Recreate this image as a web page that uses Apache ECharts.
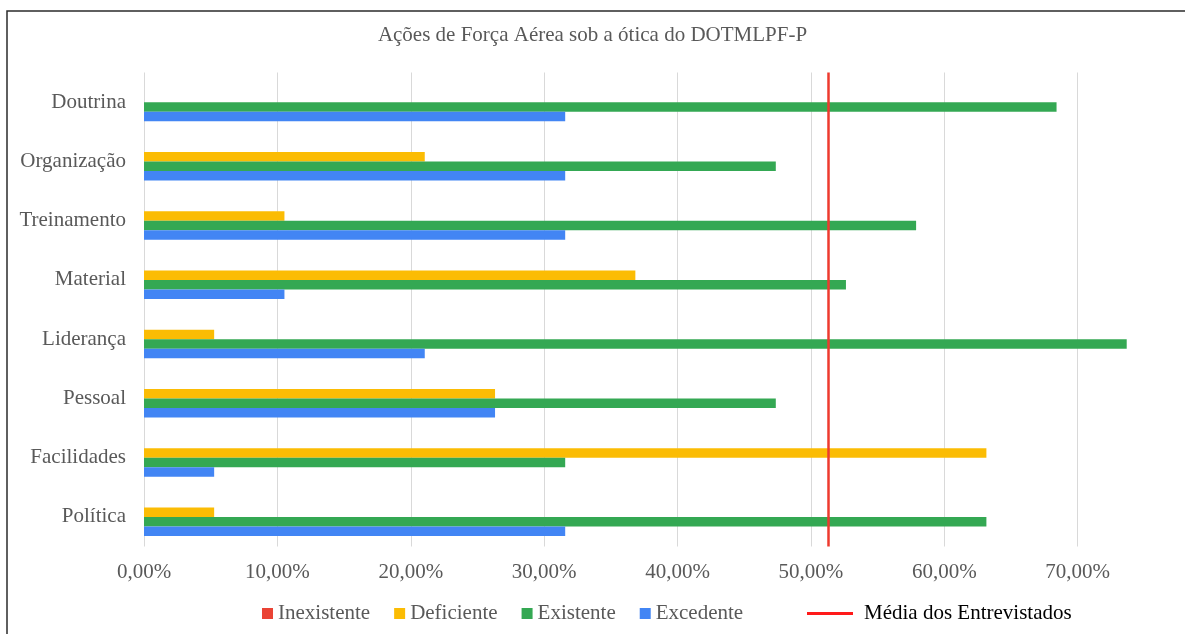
<!DOCTYPE html>
<html>
<head>
<meta charset="utf-8">
<script type="text/javascript" src="https://cdn.jsdelivr.net/npm/echarts@6/dist/echarts.min.js"></script>
<style>
  html, body { margin: 0; padding: 0; background: #fff; }
</style>
</head>
<body>
<div id="main" style="width:1185px;height:634px;"></div>
<script type="text/javascript">
// categorias (de cima para baixo)
var categorias = ['Doutrina', 'Organização', 'Treinamento', 'Material', 'Liderança', 'Pessoal', 'Facilidades', 'Política'];
// valores em %
var inexistente = [0, 0, 0, 0, 0, 0, 0, 0];
var deficiente  = [0, 21.05, 10.53, 36.84, 5.26, 26.32, 63.16, 5.26];
var existente   = [68.42, 47.37, 57.89, 52.63, 73.68, 47.37, 31.58, 63.16];
var excedente   = [31.58, 31.58, 31.58, 10.53, 21.05, 26.32, 5.26, 31.58];
var mediaEntrevistados = 51.3;

var fonte = 'Liberation Serif, Times New Roman, serif';
var cinza = '#595959';

var myChart = echarts.init(document.getElementById('main'));

function barra(nome, dados, cor) {
  return {
    name: nome,
    type: 'bar',
    data: dados,
    barWidth: 9.5,
    barGap: '0%',
    itemStyle: { color: cor },
    silent: true
  };
}

var option = {
  animation: false,
  backgroundColor: '#fff',
  title: {
    text: 'Ações de Força Aérea sob a ótica do DOTMLPF-P',
    left: 'center',
    top: 20,
    textStyle: { fontFamily: fonte, fontSize: 21, fontWeight: 'normal', color: cinza }
  },
  graphic: [{
    type: 'rect',
    shape: { x: 7, y: 11, width: 1400, height: 800 },
    style: { fill: 'none', stroke: '#2b2b2b', lineWidth: 1.5 },
    silent: true
  }],
  legend: [{
    data: ['Inexistente', 'Deficiente', 'Existente', 'Excedente'],
    left: 262,
    top: 603,
    padding: 0,
    icon: 'rect',
    itemWidth: 11,
    itemHeight: 11,
    itemGap: 24,
    textStyle: { fontFamily: fonte, fontSize: 21, color: cinza }
  }, {
    data: ['Média dos Entrevistados'],
    left: 807,
    top: 603,
    padding: 0,
    icon: 'rect',
    itemWidth: 46,
    itemHeight: 3,
    itemStyle: { color: '#ff1a1a' },
    textStyle: { fontFamily: fonte, fontSize: 21, color: '#000', padding: [0, 0, 0, 6] }
  }],
  grid: {
    left: 144,
    top: 72.5,
    bottom: 87.5,
    right: -26,
    outerBoundsMode: 'none'
  },
  xAxis: {
    type: 'value',
    min: 0,
    max: 80,
    interval: 10,
    axisLine: { show: false },
    axisTick: { show: false },
    splitLine: { lineStyle: { color: '#d9d9d9', width: 1 } },
    axisLabel: {
      margin: 15,
      showMaxLabel: false,
      fontFamily: fonte,
      fontSize: 21,
      color: cinza,
      formatter: function (v) {
        if (v >= 80) return '';
        return v.toFixed(2).replace('.', ',') + '%';
      }
    }
  },
  yAxis: {
    type: 'category',
    data: categorias,
    inverse: true,
    axisLine: { show: false },
    axisTick: { show: false },
    axisLabel: { margin: 18, fontFamily: fonte, fontSize: 21, color: cinza }
  },
  series: [
    barra('Inexistente', inexistente, '#ea4335'),
    barra('Deficiente', deficiente, '#fbbc04'),
    barra('Existente', existente, '#34a853'),
    barra('Excedente', excedente, '#4285f4'),
    {
      name: 'Média dos Entrevistados',
      type: 'line',
      data: [],
      itemStyle: { color: '#ff1a1a' },
      markLine: {
        silent: true,
        symbol: 'none',
        label: { show: false },
        lineStyle: { color: '#ee3a2e', width: 2.5, type: 'solid' },
        data: [{ xAxis: mediaEntrevistados }]
      }
    }
  ]
};

myChart.setOption(option);
</script>
</body>
</html>
